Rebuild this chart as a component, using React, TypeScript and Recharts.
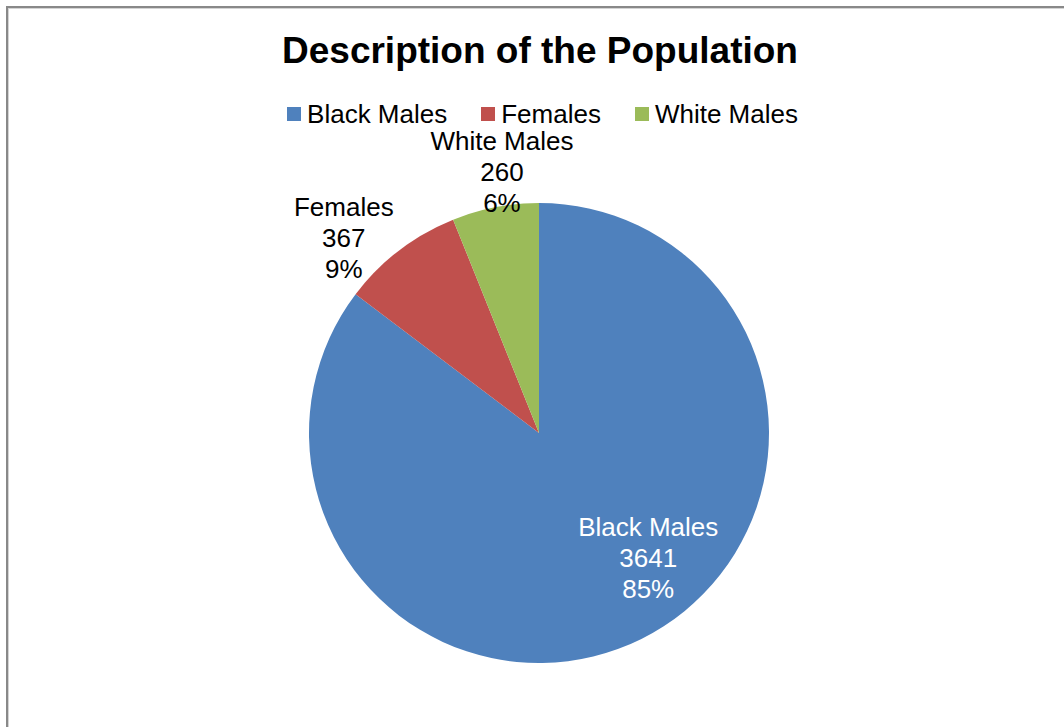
import { PieChart, Pie, Cell } from 'recharts';

const categories = ['Black Males', 'Females', 'White Males'];
const counts = [3641, 367, 260];
const percentLabels = ['85%', '9%', '6%'];
const sliceColors = ['#4F81BD', '#C0504D', '#9BBB59'];

// label placement relative to the slice mid angle (Excel "best fit" look)
const labelRadius = [166, 276, 264];
const labelAngleShift = [14.7, 7.6, -2.9];
const labelColors = ['#FFFFFF', '#000000', '#000000'];

const data = categories.map((name, i) => ({ name, value: counts[i] }));

const FONT = '"Liberation Sans", Arial, Helvetica, sans-serif';
const RAD = Math.PI / 180;

function SliceLabel(props: any) {
  const { cx, cy, midAngle, index } = props;
  const ang = midAngle + labelAngleShift[index];
  const x = cx + labelRadius[index] * Math.cos(-ang * RAD);
  const y = cy + labelRadius[index] * Math.sin(-ang * RAD);
  return (
    <text
      x={x}
      y={y}
      textAnchor="middle"
      fill={labelColors[index]}
      fontSize={26}
      fontFamily={FONT}
    >
      <tspan x={x} y={y - 22}>{categories[index]}</tspan>
      <tspan x={x} y={y + 9}>{counts[index]}</tspan>
      <tspan x={x} y={y + 40}>{percentLabels[index]}</tspan>
    </text>
  );
}

export default function App() {
  return (
    <div
      style={{
        position: 'absolute',
        left: 0,
        top: 0,
        width: 1064,
        height: 727,
        overflow: 'hidden',
        background: '#fff',
        fontFamily: FONT,
      }}
    >
      {/* chart frame: only top and left edges fall inside the picture */}
      <div style={{ position: 'absolute', left: 6, top: 6, width: 1100, height: 2, background: '#898989' }} />
      <div style={{ position: 'absolute', left: 6, top: 6, width: 2, height: 800, background: '#898989' }} />
      <div style={{ position: 'absolute', left: 8, top: 8, width: 1100, height: 1, background: '#d4d4d4' }} />
      <div style={{ position: 'absolute', left: 8, top: 8, width: 1, height: 800, background: '#d4d4d4' }} />
      <div
        style={{
          position: 'absolute',
          left: 0,
          top: 32,
          width: 1080,
          textAlign: 'center',
          fontSize: 37,
          lineHeight: '37px',
          fontWeight: 'bold',
          color: '#000',
        }}
      >
        Description of the Population
      </div>
      <div
        style={{
          position: 'absolute',
          left: 0,
          top: 101,
          width: 1085,
          display: 'flex',
          justifyContent: 'center',
          fontSize: 26,
          lineHeight: '26px',
          color: '#000',
        }}
      >
        {categories.map((c, i) => (
          <div key={c} style={{ display: 'flex', alignItems: 'center', marginRight: i < 2 ? 34 : 0 }}>
            <span style={{ width: 14, height: 14, background: sliceColors[i], marginRight: 6, display: 'inline-block' }} />
            <span>{c}</span>
          </div>
        ))}
      </div>
      <div style={{ position: 'absolute', left: 0, top: 0 }}>
        <PieChart width={1064} height={727} margin={{ top: 0, right: 0, bottom: 0, left: 0 }}>
          <Pie
            data={data}
            dataKey="value"
            nameKey="name"
            cx={539}
            cy={433}
            outerRadius={230}
            startAngle={90}
            endAngle={-270}
            stroke="none"
            label={SliceLabel}
            labelLine={false}
            isAnimationActive={false}
          >
            {data.map((d, i) => (
              <Cell key={d.name} fill={sliceColors[i]} />
            ))}
          </Pie>
        </PieChart>
      </div>
    </div>
  );
}
